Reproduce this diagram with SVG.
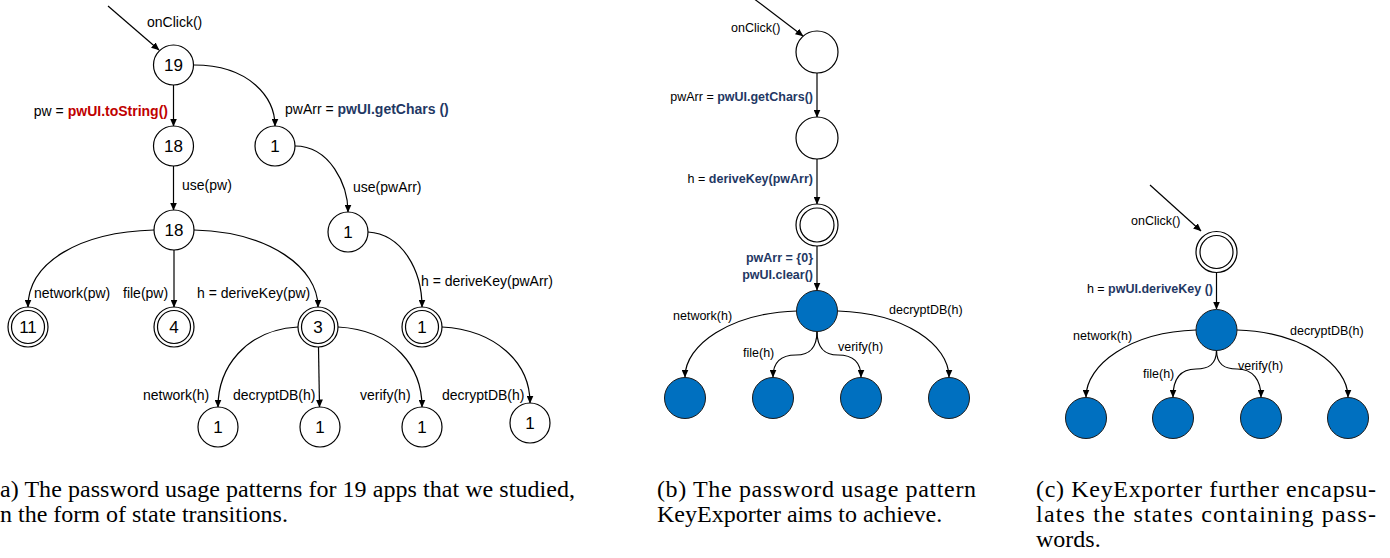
<svg xmlns="http://www.w3.org/2000/svg" width="1390" height="558" viewBox="0 0 1390 558">
  <style>
    .st { fill: #fff; stroke: #000; stroke-width: 1.2; }
    .fin { fill: none; stroke: #000; stroke-width: 1.2; }
    .blue { fill: #0070C0; stroke: #1a1a1a; stroke-width: 1; }
    .num { font-family: "Liberation Sans", Arial, sans-serif; font-size: 17px; text-anchor: middle; fill: #000; }
    .lbl { font-family: "Liberation Sans", Arial, sans-serif; font-size: 14px; fill: #000; }
    .lbl-sm { font-family: "Liberation Sans", Arial, sans-serif; font-size: 12.5px; fill: #000; }
    .code { font-weight: bold; fill: #1F3864; }
    .red { font-weight: bold; fill: #C00000; }
    .cap { font-family: "Liberation Serif", "Times New Roman", serif; font-size: 24px; fill: #000; }
    .edge { fill: none; stroke: #000; stroke-width: 1.2; marker-end: url(#arrow); }
  </style>
  <defs>
    <marker id="arrow" markerUnits="userSpaceOnUse" markerWidth="8" markerHeight="7" refX="7.5" refY="3.5" orient="auto">
      <path d="M0,0 L8,3.5 L0,7 z" fill="#000"/>
    </marker>
  </defs>
  <rect width="1390" height="558" fill="#fff"/>

  <!-- connectors -->
  <g id="connectors">
    <!-- (a) -->
    <path class="edge" d="M108,6 L159,50"/>
    <path class="edge" d="M173.5,85 L173.5,126"/>
    <path class="edge" d="M194,65 C250,65 275,98 275,126"/>
    <path class="edge" d="M173.5,166 L173.5,210"/>
    <path class="edge" d="M295,146 C330,146 348,185 348,212"/>
    <path class="edge" d="M154,230 C80,232 28,262 28,307"/>
    <path class="edge" d="M174,250 L174,307"/>
    <path class="edge" d="M194,230 C270,232 318,268 318,307"/>
    <path class="edge" d="M368,232 C402,234 422,270 422,307"/>
    <path class="edge" d="M298,327 C245,330 218,368 218,407"/>
    <path class="edge" d="M318.5,347 L319.5,407"/>
    <path class="edge" d="M338,327 C395,330 422,368 422,407"/>
    <path class="edge" d="M442,327 C495,330 530,362 530,403"/>
    <!-- (b) -->
    <path class="edge" d="M753,-2 L803,36"/>
    <path class="edge" d="M817,73 L817,117"/>
    <path class="edge" d="M817,159 L817,204"/>
    <path class="edge" d="M817,246 L817,290"/>
    <path class="edge" d="M797,311 C730,313 685,345 685,377"/>
    <path class="edge" d="M838,311 C905,313 949,345 949,377"/>
    <path class="edge" d="M817,331 C817,350 808,355 796,355 C781,355 773,362 773,377"/>
    <path class="edge" d="M817,331 C817,350 826,355 838,355 C853,355 861,362 861,377"/>
    <!-- (c) -->
    <path class="edge" d="M1150,185 L1201,231"/>
    <path class="edge" d="M1216.5,273 L1216.5,309"/>
    <path class="edge" d="M1196,330 C1130,332 1086,365 1086,397"/>
    <path class="edge" d="M1237,330 C1302,332 1348,365 1348,397"/>
    <path class="edge" d="M1216.5,350 C1216.5,365 1208,369 1196,369 C1180,369 1173,380 1173,397"/>
    <path class="edge" d="M1216.5,350 C1216.5,365 1225,369 1237,369 C1253,369 1261,380 1261,397"/>
  </g>

  <!-- (a) states -->
  <g id="a-s19"><circle class="st" cx="173.5" cy="65" r="20"/><text class="num" x="173.5" y="71">19</text></g>
  <g id="a-s18"><circle class="st" cx="173.5" cy="146" r="20"/><text class="num" x="173.5" y="152">18</text></g>
  <g id="a-s1"><circle class="st" cx="275" cy="146" r="20"/><text class="num" x="275" y="152">1</text></g>
  <g id="a-s18b"><circle class="st" cx="174" cy="230" r="20"/><text class="num" x="174" y="236">18</text></g>
  <g id="a-s1b"><circle class="st" cx="348" cy="232" r="20"/><text class="num" x="348" y="238">1</text></g>
  <g id="a-s11"><circle class="st" cx="28" cy="327" r="20"/><circle class="fin" cx="28" cy="327" r="16.5"/><text class="num" x="28" y="333">11</text></g>
  <g id="a-s4"><circle class="st" cx="174" cy="327" r="20"/><circle class="fin" cx="174" cy="327" r="16.5"/><text class="num" x="174" y="333">4</text></g>
  <g id="a-s3"><circle class="st" cx="318" cy="327" r="20"/><circle class="fin" cx="318" cy="327" r="16.5"/><text class="num" x="318" y="333">3</text></g>
  <g id="a-s1c"><circle class="st" cx="422" cy="327" r="20"/><circle class="fin" cx="422" cy="327" r="16.5"/><text class="num" x="422" y="333">1</text></g>
  <g id="a-s1d"><circle class="st" cx="218" cy="427" r="20"/><text class="num" x="218" y="433">1</text></g>
  <g id="a-s1e"><circle class="st" cx="320" cy="427" r="20"/><text class="num" x="320" y="433">1</text></g>
  <g id="a-s1f"><circle class="st" cx="422" cy="427" r="20"/><text class="num" x="422" y="433">1</text></g>
  <g id="a-s1g"><circle class="st" cx="530" cy="423" r="20"/><text class="num" x="530" y="429">1</text></g>

  <!-- (b) states -->
  <g id="b-s0"><circle class="st" cx="817" cy="52" r="21"/></g>
  <g id="b-s1"><circle class="st" cx="817" cy="138" r="21"/></g>
  <g id="b-s2"><circle class="st" cx="817" cy="225" r="21"/><circle class="fin" cx="817" cy="225" r="17"/></g>
  <g id="b-s3"><circle class="blue" cx="817" cy="311" r="20.5"/></g>
  <g id="b-s4"><circle class="blue" cx="685" cy="398" r="20.5"/></g>
  <g id="b-s5"><circle class="blue" cx="773" cy="398" r="20.5"/></g>
  <g id="b-s6"><circle class="blue" cx="861" cy="398" r="20.5"/></g>
  <g id="b-s7"><circle class="blue" cx="949" cy="398" r="20.5"/></g>

  <!-- (c) states -->
  <g id="c-s0"><circle class="st" cx="1216.5" cy="252" r="20.5"/><circle class="fin" cx="1216.5" cy="252" r="16.5"/></g>
  <g id="c-s1"><circle class="blue" cx="1216.5" cy="330" r="20.5"/></g>
  <g id="c-s2"><circle class="blue" cx="1086" cy="418" r="20.5"/></g>
  <g id="c-s3"><circle class="blue" cx="1173" cy="418" r="20.5"/></g>
  <g id="c-s4"><circle class="blue" cx="1261" cy="418" r="20.5"/></g>
  <g id="c-s5"><circle class="blue" cx="1348" cy="418" r="20.5"/></g>

  <!-- transition labels, panel (a) -->
  <g id="labels-a" class="lbl">
    <text x="147" y="27">onClick()</text>
    <text x="168" y="116" text-anchor="end">pw = <tspan class="red">pwUI.toString()</tspan></text>
    <text x="285" y="114">pwArr = <tspan class="code">pwUI.getChars ()</tspan></text>
    <text x="182" y="190">use(pw)</text>
    <text x="353" y="192">use(pwArr)</text>
    <text x="421" y="286">h = deriveKey(pwArr)</text>
    <text x="34" y="298">network(pw)</text>
    <text x="123" y="298">file(pw)</text>
    <text x="197" y="298">h = deriveKey(pw)</text>
    <text x="143" y="400">network(h)</text>
    <text x="233" y="400">decryptDB(h)</text>
    <text x="360" y="400">verify(h)</text>
    <text x="442" y="400">decryptDB(h)</text>
  </g>

  <!-- transition labels, panels (b) and (c) -->
  <g id="labels-bc" class="lbl-sm">
    <text x="731" y="32">onClick()</text>
    <text x="813" y="101" text-anchor="end">pwArr = <tspan class="code">pwUI.getChars()</tspan></text>
    <text x="813" y="183" text-anchor="end">h = <tspan class="code">deriveKey(pwArr)</tspan></text>
    <text x="813" y="262" text-anchor="end" class="code">pwArr = {0}</text>
    <text x="813" y="279" text-anchor="end" class="code">pwUI.clear()</text>
    <text x="673" y="320">network(h)</text>
    <text x="889" y="314">decryptDB(h)</text>
    <text x="743" y="357">file(h)</text>
    <text x="838" y="351">verify(h)</text>

    <text x="1131" y="225">onClick()</text>
    <text x="1213" y="293" text-anchor="end">h = <tspan class="code">pwUI.deriveKey ()</tspan></text>
    <text x="1073" y="340">network(h)</text>
    <text x="1290" y="335">decryptDB(h)</text>
    <text x="1143" y="378">file(h)</text>
    <text x="1238" y="370">verify(h)</text>
  </g>

  <!-- sub-figure captions -->
  <g id="captions" class="cap">
    <text x="0" y="497" textLength="575" lengthAdjust="spacing">a) The password usage patterns for 19 apps that we studied,</text>
    <text x="0" y="522">n the form of state transitions.</text>
    <text x="657" y="497" textLength="319" lengthAdjust="spacing">(b) The password usage pattern</text>
    <text x="657" y="522">KeyExporter aims to achieve.</text>
    <text x="1036" y="497" textLength="340" lengthAdjust="spacing">(c) KeyExporter further encapsu-</text>
    <text x="1036" y="522" textLength="340" lengthAdjust="spacing">lates the states containing pass-</text>
    <text x="1036" y="547">words.</text>
  </g>
</svg>
